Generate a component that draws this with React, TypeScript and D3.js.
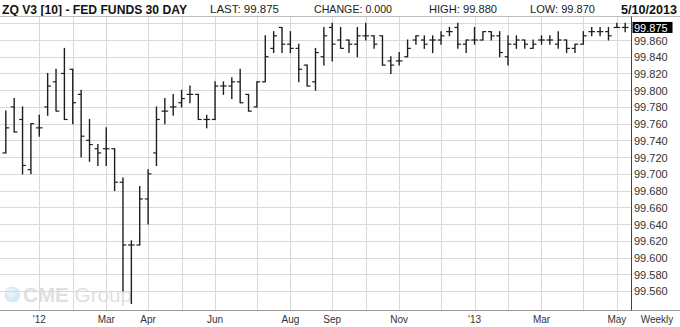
import React from "react";
import * as d3 from "d3";

// ---- data (weekly OHLC, ZQ V3 Fed Funds 30 Day) ----
const opens = [99.725, 99.78, 99.765, 99.705, 99.755, 99.78, 99.81, 99.82, 99.825, 99.795,
  99.74, 99.73, 99.73, 99.73, 99.69, 99.615, 99.615, 99.67, 99.725, 99.775,
  99.78, 99.785, 99.795, 99.795, 99.765, 99.765, 99.805, 99.805, 99.81, 99.795,
  99.78, 99.81, 99.85, 99.875, 99.855, 99.85, 99.83, 99.81, 99.84, 99.875,
  99.86, 99.86, 99.855, 99.865, 99.865, 99.865, 99.835, 99.835, 99.84, 99.86,
  99.86, 99.86, 99.86, 99.87, 99.875, 99.855, 99.86, 99.86, 99.87, 99.865,
  99.84, 99.855, 99.86, 99.85, 99.86, 99.86, 99.855, 99.86, 99.85, 99.855,
  99.87, 99.87, 99.87, 99.875, 99.875];
const highs = [99.775, 99.79, 99.78, 99.76, 99.77, 99.82, 99.825, 99.85, 99.825, 99.80,
  99.765, 99.735, 99.755, 99.73, 99.695, 99.62, 99.685, 99.705, 99.78, 99.79,
  99.795, 99.80, 99.805, 99.795, 99.77, 99.81, 99.81, 99.815, 99.825, 99.795,
  99.81, 99.865, 99.87, 99.875, 99.87, 99.855, 99.83, 99.85, 99.875, 99.88,
  99.875, 99.86, 99.875, 99.88, 99.865, 99.865, 99.84, 99.845, 99.86, 99.865,
  99.865, 99.865, 99.87, 99.875, 99.88, 99.86, 99.875, 99.87, 99.87, 99.87,
  99.865, 99.865, 99.86, 99.86, 99.865, 99.865, 99.87, 99.86, 99.855, 99.87,
  99.875, 99.875, 99.875, 99.88, 99.88];
const lows = [99.725, 99.75, 99.70, 99.70, 99.745, 99.77, 99.775, 99.765, 99.76, 99.72,
  99.715, 99.71, 99.71, 99.68, 99.56, 99.545, 99.615, 99.64, 99.71, 99.76,
  99.77, 99.78, 99.785, 99.765, 99.755, 99.765, 99.795, 99.79, 99.785, 99.775,
  99.78, 99.81, 99.845, 99.845, 99.845, 99.81, 99.805, 99.80, 99.83, 99.835,
  99.85, 99.845, 99.84, 99.86, 99.85, 99.83, 99.82, 99.83, 99.84, 99.855,
  99.85, 99.845, 99.855, 99.865, 99.85, 99.845, 99.855, 99.86, 99.86, 99.84,
  99.83, 99.85, 99.85, 99.85, 99.855, 99.855, 99.85, 99.845, 99.845, 99.855,
  99.865, 99.865, 99.86, 99.875, 99.87];
const closes = [99.755, 99.75, 99.71, 99.76, 99.755, 99.805, 99.775, 99.765, 99.785, 99.745,
  99.735, 99.725, 99.73, 99.69, 99.615, 99.615, 99.67, 99.70, 99.765, 99.775,
  99.78, 99.79, 99.795, 99.765, 99.765, 99.805, 99.805, 99.81, 99.785, 99.775,
  99.81, 99.84, 99.865, 99.855, 99.85, 99.825, 99.805, 99.845, 99.865, 99.855,
  99.85, 99.855, 99.865, 99.865, 99.855, 99.83, 99.83, 99.835, 99.85, 99.865,
  99.855, 99.86, 99.865, 99.87, 99.855, 99.86, 99.86, 99.87, 99.865, 99.845,
  99.855, 99.86, 99.855, 99.855, 99.86, 99.86, 99.86, 99.85, 99.855, 99.865,
  99.87, 99.87, 99.865, 99.875, 99.875];

const yTicks = [99.56, 99.58, 99.60, 99.62, 99.64, 99.66, 99.68, 99.70, 99.72, 99.74,
  99.76, 99.78, 99.80, 99.82, 99.84, 99.86];
const yGrid = [...yTicks, 99.88];
const lastValue = 99.875;

const xLabelKeys = ["2012-0", "2012-2", "2012-3", "2012-5", "2012-7", "2012-8", "2012-10", "2013-0", "2013-2", "2013-4"];
const xLabelTexts = ["'12", "Mar", "Apr", "Jun", "Aug", "Sep", "Nov", "'13", "Mar", "May"];

const headerTitle = "ZQ V3 [10] - FED FUNDS 30 DAY";
const headerItems = ["LAST: 99.875", "CHANGE: 0.000", "HIGH: 99.880", "LOW: 99.870"];
const headerDate = "5/10/2013";

// weekly (Friday) bar dates: first bar 9 Dec 2011, last bar 10 May 2013
const dates = d3.utcFriday.range(new Date(Date.UTC(2011, 11, 9)), new Date(Date.UTC(2013, 4, 11)));

const W = 680, H = 328;
const plotRight = 631.5, plotTop = 16.5, plotBottom = 310.5;
const FONT = "'Liberation Sans', Arial, sans-serif";
const NARROW = "'Liberation Sans Narrow', 'Arial Narrow', 'Liberation Sans', Arial, sans-serif";

export default function App() {
  const x = d3.scaleUtc().domain([dates[0], dates[dates.length - 1]]).range([5.8, 625.2]);
  const y = d3.scaleLinear().domain([99.54, 99.88]).range([307.7, 23.27]);

  const monthStarts = dates.filter((d, i) => i > 0 && d.getUTCMonth() !== dates[i - 1].getUTCMonth());
  const keyOf = (d: Date) => `${d.getUTCFullYear()}-${d.getUTCMonth()}`;
  const tick = 3.3;

  return (
    <svg width={W} height={H} style={{ position: "absolute", left: 0, top: 0, background: "#fff" }}
      fontFamily={FONT}>
      <rect x={0} y={0} width={W} height={H} fill="#fff" />
      {/* header */}
      <text x={2} y={13.5} fontFamily={NARROW} fontWeight="bold" fontSize={13.5} fill="#111"
        textLength={185} lengthAdjust="spacingAndGlyphs">{headerTitle}</text>
      {headerItems.map((t, i) => {
        const xs = [210, 314, 429, 530];
        const ws = [69, 78, 68, 65];
        return <text key={t} x={xs[i]} y={13} fontSize={10.5} fill="#222"
          textLength={ws[i]} lengthAdjust="spacingAndGlyphs">{t}</text>;
      })}
      <text x={621} y={13.5} fontFamily={NARROW} fontWeight="bold" fontSize={13} fill="#111"
        textLength={56} lengthAdjust="spacingAndGlyphs">{headerDate}</text>

      {/* watermark */}
      <g>
        <circle cx={12.5} cy={294.5} r={8} fill="#d6ebf7" />
        <circle cx={11} cy={292.5} r={4.5} fill="#e6f3fa" />
        <text x={23} y={302} fontSize={21} fill="#e0e0e0" textLength={109}
          lengthAdjust="spacingAndGlyphs"><tspan fontWeight="bold">CME</tspan> Group</text>
      </g>

      {/* grid */}
      {yGrid.map(v => (
        <line key={"h" + v} x1={0} x2={plotRight} y1={Math.round(y(v)) + 0.5} y2={Math.round(y(v)) + 0.5}
          stroke="#d9d9d9" strokeWidth={1} />
      ))}
      {monthStarts.map(d => (
        <line key={"v" + d.getTime()} x1={Math.round(x(d)) + 0.5} x2={Math.round(x(d)) + 0.5}
          y1={plotTop} y2={plotBottom} stroke="#d9d9d9" strokeWidth={1} />
      ))}
      <line x1={0} x2={W} y1={plotTop} y2={plotTop} stroke="#bdbdbd" />
      <line x1={0} x2={W} y1={plotBottom} y2={plotBottom} stroke="#9a9a9a" />
      <line x1={0} x2={W} y1={327.5} y2={327.5} stroke="#d0d0d0" />
      <line x1={plotRight} x2={plotRight} y1={plotTop} y2={plotBottom} stroke="#444" />

      {/* OHLC bars */}
      <g stroke="#1e1e1e">
        {dates.map((d, i) => {
          const cx = x(d);
          return (
            <g key={i}>
              <line x1={cx} x2={cx} y1={y(highs[i]) - 0.5} y2={y(lows[i]) + 0.5} strokeWidth={1.4} />
              <line x1={cx - tick} x2={cx} y1={y(opens[i])} y2={y(opens[i])} strokeWidth={1.2} />
              <line x1={cx} x2={cx + tick} y1={y(closes[i])} y2={y(closes[i])} strokeWidth={1.2} />
            </g>
          );
        })}
      </g>

      {/* y labels */}
      {yTicks.map(v => (
        <text key={"yl" + v} x={634} y={y(v) + 4.5} fontSize={11} fill="#333">{v.toFixed(3)}</text>
      ))}
      <rect x={632.5} y={y(lastValue) - 5.5} width={40} height={11} fill="#000" />
      <text x={634} y={y(lastValue) + 4.5} fontSize={11} fill="#fff">{lastValue.toFixed(3)}</text>

      {/* x labels */}
      {monthStarts.filter(d => xLabelKeys.includes(keyOf(d))).map(d => (
        <text key={"xl" + d.getTime()} x={x(d)} y={323} fontSize={10} fill="#333" textAnchor="middle">
          {xLabelTexts[xLabelKeys.indexOf(keyOf(d))]}
        </text>
      ))}
      <text x={657} y={323} fontSize={10} fill="#333" textAnchor="middle">Weekly</text>
    </svg>
  );
}
